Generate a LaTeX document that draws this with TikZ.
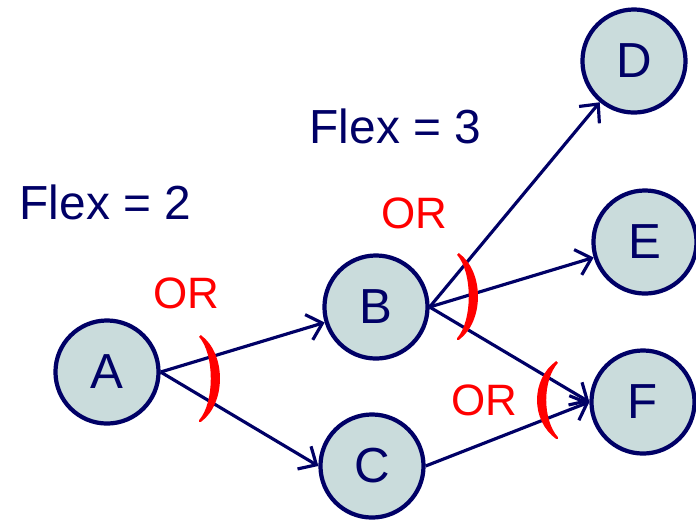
\documentclass[tikz,border=0pt]{standalone}
\usepackage{fontspec}
\setmainfont{Liberation Sans}
\usetikzlibrary{arrows.meta}
\definecolor{navy}{RGB}{0,0,102}
\definecolor{nodefill}{RGB}{202,220,220}
\definecolor{orred}{RGB}{255,0,0}
\tikzset{
  task/.style={circle, draw=navy, fill=nodefill, line width=1.2pt,
    minimum size=1.03cm, inner sep=0pt, text=navy, font=\fontsize{14}{16}\selectfont},
  flow/.style={draw=navy, line width=0.9pt, -{Straight Barb[length=4pt,width=7.5pt]}},
  flexlabel/.style={anchor=base west, inner sep=0pt, text=navy, font=\fontsize{13.6}{16}\selectfont},
  orlabel/.style={anchor=base west, inner sep=0pt, text=orred, font=\fontsize{12.5}{14}\selectfont},
  orbracket/.style={fill=orred, draw=orred, line width=0.7pt, line join=round}
}
\begin{document}
\begin{tikzpicture}[x=0.01cm, y=-0.01cm]
  \useasboundingbox (0,0) rectangle (696,523);

  % Tasks
  \node[task] (A) at (107,372) {A};
  \node[task] (B) at (376,307) {B};
  \node[task] (C) at (372,466) {C};
  \node[task] (D) at (634,61) {D};
  \node[task] (E) at (645,242) {E};
  \node[task] (F) at (643,402) {F};

  % Labels
  \node[flexlabel] (flex2) at (19,219) {Flex = 2};
  \node[flexlabel] (flex3) at (309,143) {Flex = 3};
  \node[orlabel] (orA) at (153,308) {OR};
  \node[orlabel] (orB) at (381,228) {OR};
  \node[orlabel] (orF) at (451,415) {OR};

  % Arrows
  \draw[flow] (A.east) -- (B);
  \draw[flow] (A.east) -- (C.west);
  \draw[flow] (B.east) -- (D);
  \draw[flow] (B.east) -- (E);
  \draw[flow] (B.east) -- (F.west);
  \draw[flow] (C.east) -- (F.west);

  % OR brackets
  \filldraw[orbracket] (200,336) .. controls (225,354) and (225,403) .. (200,421)
    .. controls (216,403) and (216,354) .. (200,336);
  \filldraw[orbracket] (458,254) .. controls (483,272) and (483,321) .. (458,339)
    .. controls (474,321) and (474,272) .. (458,254);
  \filldraw[orbracket] (557,362) .. controls (532,380) and (532,420) .. (557,438)
    .. controls (541,420) and (541,380) .. (557,362);
\end{tikzpicture}
\end{document}
